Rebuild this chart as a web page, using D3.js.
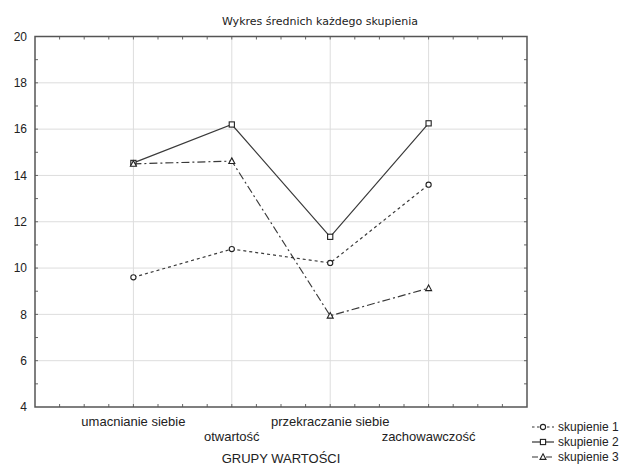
<!DOCTYPE html>
<html>
<head>
<meta charset="utf-8">
<script src="https://cdn.jsdelivr.net/npm/d3@7"></script>
<style>
  html, body { margin: 0; padding: 0; background: #fff; }
  text { font-family: 'Liberation Sans', Arial, sans-serif; fill: #222; }
</style>
</head>
<body>
<div id="svg-container"></div>
<script>
const categories = ['umacnianie siebie', 'otwartość', 'przekraczanie siebie', 'zachowawczość']
const seriesNames = ['skupienie 1', 'skupienie 2', 'skupienie 3']
const skupienie1 = [9.6, 10.82, 10.22, 13.6]
const skupienie2 = [14.54, 16.2, 11.35, 16.25]
const skupienie3 = [14.5, 14.62, 7.94, 9.13]
const yTicks = [4, 6, 8, 10, 12, 14, 16, 18, 20]

;(function () {
  const svgWidth = 626
  const svgHeight = 466
  const marginTop = 36.5
  const marginLeft = 35
  const marginRight = 99
  const marginBottom = 59

  const width = svgWidth - marginLeft - marginRight
  const height = svgHeight - marginTop - marginBottom

  const series = [
    { name: seriesNames[0], values: skupienie1, dash: '3,3', marker: 'circle' },
    { name: seriesNames[1], values: skupienie2, dash: null, marker: 'square' },
    { name: seriesNames[2], values: skupienie3, dash: '8,3,2,3', marker: 'triangle' },
  ]

  // categories sit on 1..4, the frame spans 0..5
  const x = d3.scaleLinear().domain([0, categories.length + 1]).range([0, width])
  const y = d3.scaleLinear().domain([4, 20]).range([height, 0])

  const svg = d3
    .select('#svg-container')
    .append('svg')
    .attr('width', svgWidth)
    .attr('height', svgHeight)

  svg
    .append('text')
    .attr('x', 320)
    .attr('y', 25)
    .attr('text-anchor', 'middle')
    .style('font-family', "'DejaVu Sans', sans-serif")
    .style('font-size', '11px')
    .text('Wykres średnich każdego skupienia')

  const g = svg.append('g').attr('transform', `translate(${marginLeft},${marginTop})`)

  // grid
  g.append('g')
    .selectAll('line')
    .data(yTicks.slice(1, -1))
    .join('line')
    .attr('x1', 0)
    .attr('x2', width)
    .attr('y1', d => y(d))
    .attr('y2', d => y(d))
    .attr('stroke', '#ddd')
  g.append('g')
    .selectAll('line')
    .data(d3.range(1, categories.length + 1))
    .join('line')
    .attr('x1', d => x(d))
    .attr('x2', d => x(d))
    .attr('y1', 0)
    .attr('y2', height)
    .attr('stroke', '#ddd')

  // inner minor ticks
  const xMinor = d3.range(0.25, categories.length + 1, 0.25)
  const yMinor = d3.range(5, 20, 1)
  const ticks = g.append('g').attr('stroke', '#666').attr('stroke-width', 1)
  xMinor.forEach(v => {
    ticks.append('line').attr('x1', x(v)).attr('x2', x(v)).attr('y1', 0).attr('y2', 3)
    ticks.append('line').attr('x1', x(v)).attr('x2', x(v)).attr('y1', height).attr('y2', height - 3)
  })
  yMinor.forEach(v => {
    ticks.append('line').attr('x1', 0).attr('x2', 3).attr('y1', y(v)).attr('y2', y(v))
    ticks.append('line').attr('x1', width).attr('x2', width - 3).attr('y1', y(v)).attr('y2', y(v))
  })

  g.append('rect')
    .attr('width', width)
    .attr('height', height)
    .attr('fill', 'none')
    .attr('stroke', '#555')
    .attr('stroke-width', 1.5)

  // y tick labels
  g.append('g')
    .selectAll('text')
    .data(yTicks)
    .join('text')
    .attr('x', -8)
    .attr('y', d => y(d))
    .attr('dy', '0.35em')
    .attr('text-anchor', 'end')
    .style('font-size', '12px')
    .text(d => d)

  // staggered category labels
  g.append('g')
    .selectAll('text')
    .data(categories)
    .join('text')
    .attr('x', (d, i) => x(i + 1))
    .attr('y', (d, i) => height + (i % 2 === 0 ? 18.5 : 34))
    .attr('text-anchor', 'middle')
    .style('font-size', '13px')
    .text(d => d)

  g.append('text')
    .attr('x', width / 2)
    .attr('y', height + 55.5)
    .attr('text-anchor', 'middle')
    .style('font-size', '13px')
    .text('GRUPY WARTOŚCI')

  const line = d3
    .line()
    .x((d, i) => x(i + 1))
    .y(d => y(d))

  const drawMarker = (sel, type, cx, cy) => {
    if (type === 'circle') {
      sel.append('circle').attr('cx', cx).attr('cy', cy).attr('r', 2.6)
    } else if (type === 'square') {
      sel.append('rect').attr('x', cx - 2.6).attr('y', cy - 2.6).attr('width', 5.2).attr('height', 5.2)
    } else {
      sel.append('path').attr('d', `M${cx},${cy - 3.2}L${cx + 3},${cy + 2.4}L${cx - 3},${cy + 2.4}Z`)
    }
  }

  series.forEach(s => {
    g.append('path')
      .datum(s.values)
      .attr('d', line)
      .attr('fill', 'none')
      .attr('stroke', '#3a3a3a')
      .attr('stroke-width', 1.2)
      .attr('stroke-dasharray', s.dash)
    const m = g.append('g').attr('fill', '#fff').attr('stroke', '#222').attr('stroke-width', 1.1)
    s.values.forEach((v, i) => drawMarker(m, s.marker, x(i + 1), y(v)))
  })

  // legend
  const legend = svg.append('g').attr('transform', 'translate(532,427)')
  series.forEach((s, i) => {
    const row = legend.append('g').attr('transform', `translate(0,${i * 15})`)
    row.append('line')
      .attr('x1', 0).attr('x2', 22).attr('y1', 0).attr('y2', 0)
      .attr('stroke', '#333').attr('stroke-width', 1.2)
      .attr('stroke-dasharray', s.dash ? (i === 0 ? '2.5,2.5' : '6,3,2,3') : null)
    const m = row.append('g').attr('fill', '#fff').attr('stroke', '#222').attr('stroke-width', 1.1)
    drawMarker(m, s.marker, 11, 0)
    row.append('text')
      .attr('x', 26)
      .attr('y', 0)
      .attr('dy', '0.35em')
      .style('font-size', '12px')
      .text(s.name)
  })
})()
</script>
</body>
</html>
